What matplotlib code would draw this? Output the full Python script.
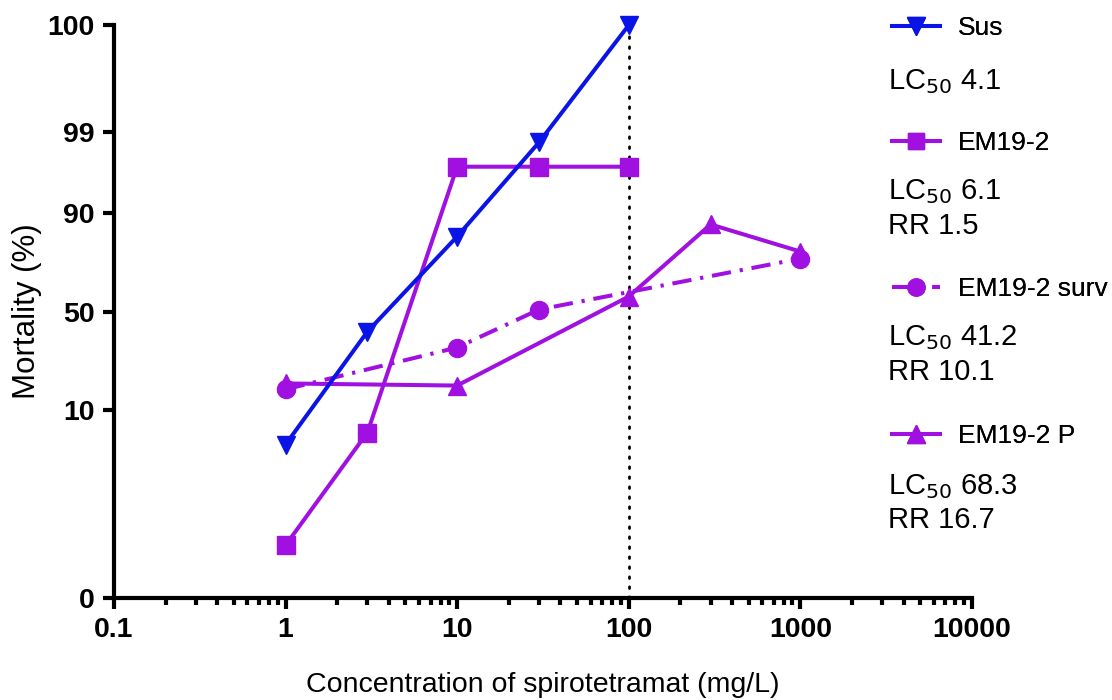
import math
import numpy as np
import matplotlib
matplotlib.use("Agg")
import matplotlib.pyplot as plt
from statistics import NormalDist

plt.rcParams['font.family'] = ['Liberation Sans', 'DejaVu Sans']

# ---- data ----
conc_sus = [1, 3, 10, 30, 100]
mort_sus = [4.2, 39.7, 83.5, 98.6, 100]

conc_em = [1, 3, 10, 30, 100]
mort_em = [0.12, 5.8, 97.0, 97.0, 97.0]

conc_surv = [1, 10, 30, 1000]
mort_surv = [15.6, 32.0, 51.0, 75.4]

conc_p = [1, 10, 100, 300, 1000]
mort_p = [17.5, 16.8, 57.7, 87.1, 78.2]

labels = ["Sus", "EM19-2", "EM19-2 surv", "EM19-2 P"]
lc50_text = [["LC$_{50}$ 4.1"],
             ["LC$_{50}$ 6.1", "RR 1.5"],
             ["LC$_{50}$ 41.2", "RR 10.1"],
             ["LC$_{50}$ 68.3", "RR 16.7"]]
y_ticks = [0, 10, 50, 90, 99, 100]
x_ticks = [0.1, 1, 10, 100, 1000, 10000]
x_ticklabels = ["0.1", "1", "10", "100", "1000", "10000"]

BLUE = '#0A14E6'
PURPLE = '#A010E0'

_nd = NormalDist()
_ppf = np.vectorize(lambda p: _nd.inv_cdf(p), otypes=[float])
_cdf = np.vectorize(lambda z: 0.5 * (1 + math.erf(z / math.sqrt(2))), otypes=[float])
EPS = 1e-4


def fwd(y):
    y = np.asarray(y, dtype=float)
    p = np.clip(y / 100.0, EPS, 1 - EPS)
    p = np.where(np.isfinite(p), p, 0.5)
    return _ppf(p)


def inv(z):
    z = np.asarray(z, dtype=float)
    return 100.0 * _cdf(z)


fig = plt.figure(figsize=(11.12, 7.0), dpi=100)
ax = fig.add_axes([0.1025, 0.146, 0.7715, 0.818])

lw = 2.9
ax.axvline(100, color='black', lw=2.0, dashes=[0.6, 3.0], dash_capstyle='round', zorder=1)

l1, = ax.plot(conc_sus, mort_sus, color=BLUE, lw=lw, marker='v', ms=13, clip_on=False, zorder=5)
l2, = ax.plot(conc_em, mort_em, color=PURPLE, lw=lw, marker='s', ms=12.5, clip_on=False, zorder=4)
l3, = ax.plot(conc_surv, mort_surv, color=PURPLE, lw=lw, marker='o', ms=13,
              dashes=[4.8, 2.2, 0.8, 2.2], clip_on=False, zorder=3)
l4, = ax.plot(conc_p, mort_p, color=PURPLE, lw=lw, marker='^', ms=13, clip_on=False, zorder=3)

ax.set_xscale('log')
ax.set_yscale('function', functions=(fwd, inv))
ax.set_xlim(0.1, 10000)
ax.set_ylim(0, 100)

ax.set_yticks(y_ticks)
ax.set_yticklabels([str(t) for t in y_ticks])
ax.yaxis.set_minor_locator(matplotlib.ticker.NullLocator())
ax.set_xticks(x_ticks)
ax.set_xticklabels(x_ticklabels)
ax.xaxis.set_minor_locator(matplotlib.ticker.LogLocator(base=10, subs=np.arange(2, 10)))
ax.xaxis.set_minor_formatter(matplotlib.ticker.NullFormatter())

for sp in ['top', 'right']:
    ax.spines[sp].set_visible(False)
for sp in ['left', 'bottom']:
    ax.spines[sp].set_linewidth(3.0)

ax.tick_params(axis='both', which='major', length=8, width=3.0, labelsize=20.5, pad=6)
ax.tick_params(axis='x', which='minor', length=5, width=3.0)
for lab in ax.get_xticklabels() + ax.get_yticklabels():
    lab.set_fontweight('bold')

ax.set_xlabel("Concentration of spirotetramat (mg/L)", fontsize=20.5, labelpad=21)
ax.set_ylabel("Mortality (%)", fontsize=22.5, labelpad=4)

# legend entries interleaved with LC50 text
handles = [l1, l2, l3, l4]
leg_y = [28, 143, 289, 436]
for h, lab, yy in zip(handles, labels, leg_y):
    lg = fig.legend([h], [lab], loc='center left',
                    bbox_to_anchor=(892 / 1112, 1 - yy / 700),
                    frameon=False, fontsize=19, handlelength=1.8,
                    handletextpad=0.7, borderpad=0, borderaxespad=0,
                    markerscale=0.95)
    fig.add_artist(lg)

txt_y = [[82], [192, 226], [338, 372], [487, 520]]
for lines, ys in zip(lc50_text, txt_y):
    for t, yy in zip(lines, ys):
        fig.text(888 / 1112, 1 - yy / 700, t, fontsize=21, ha='left', va='center')

fig.savefig("out.png", dpi=100)
